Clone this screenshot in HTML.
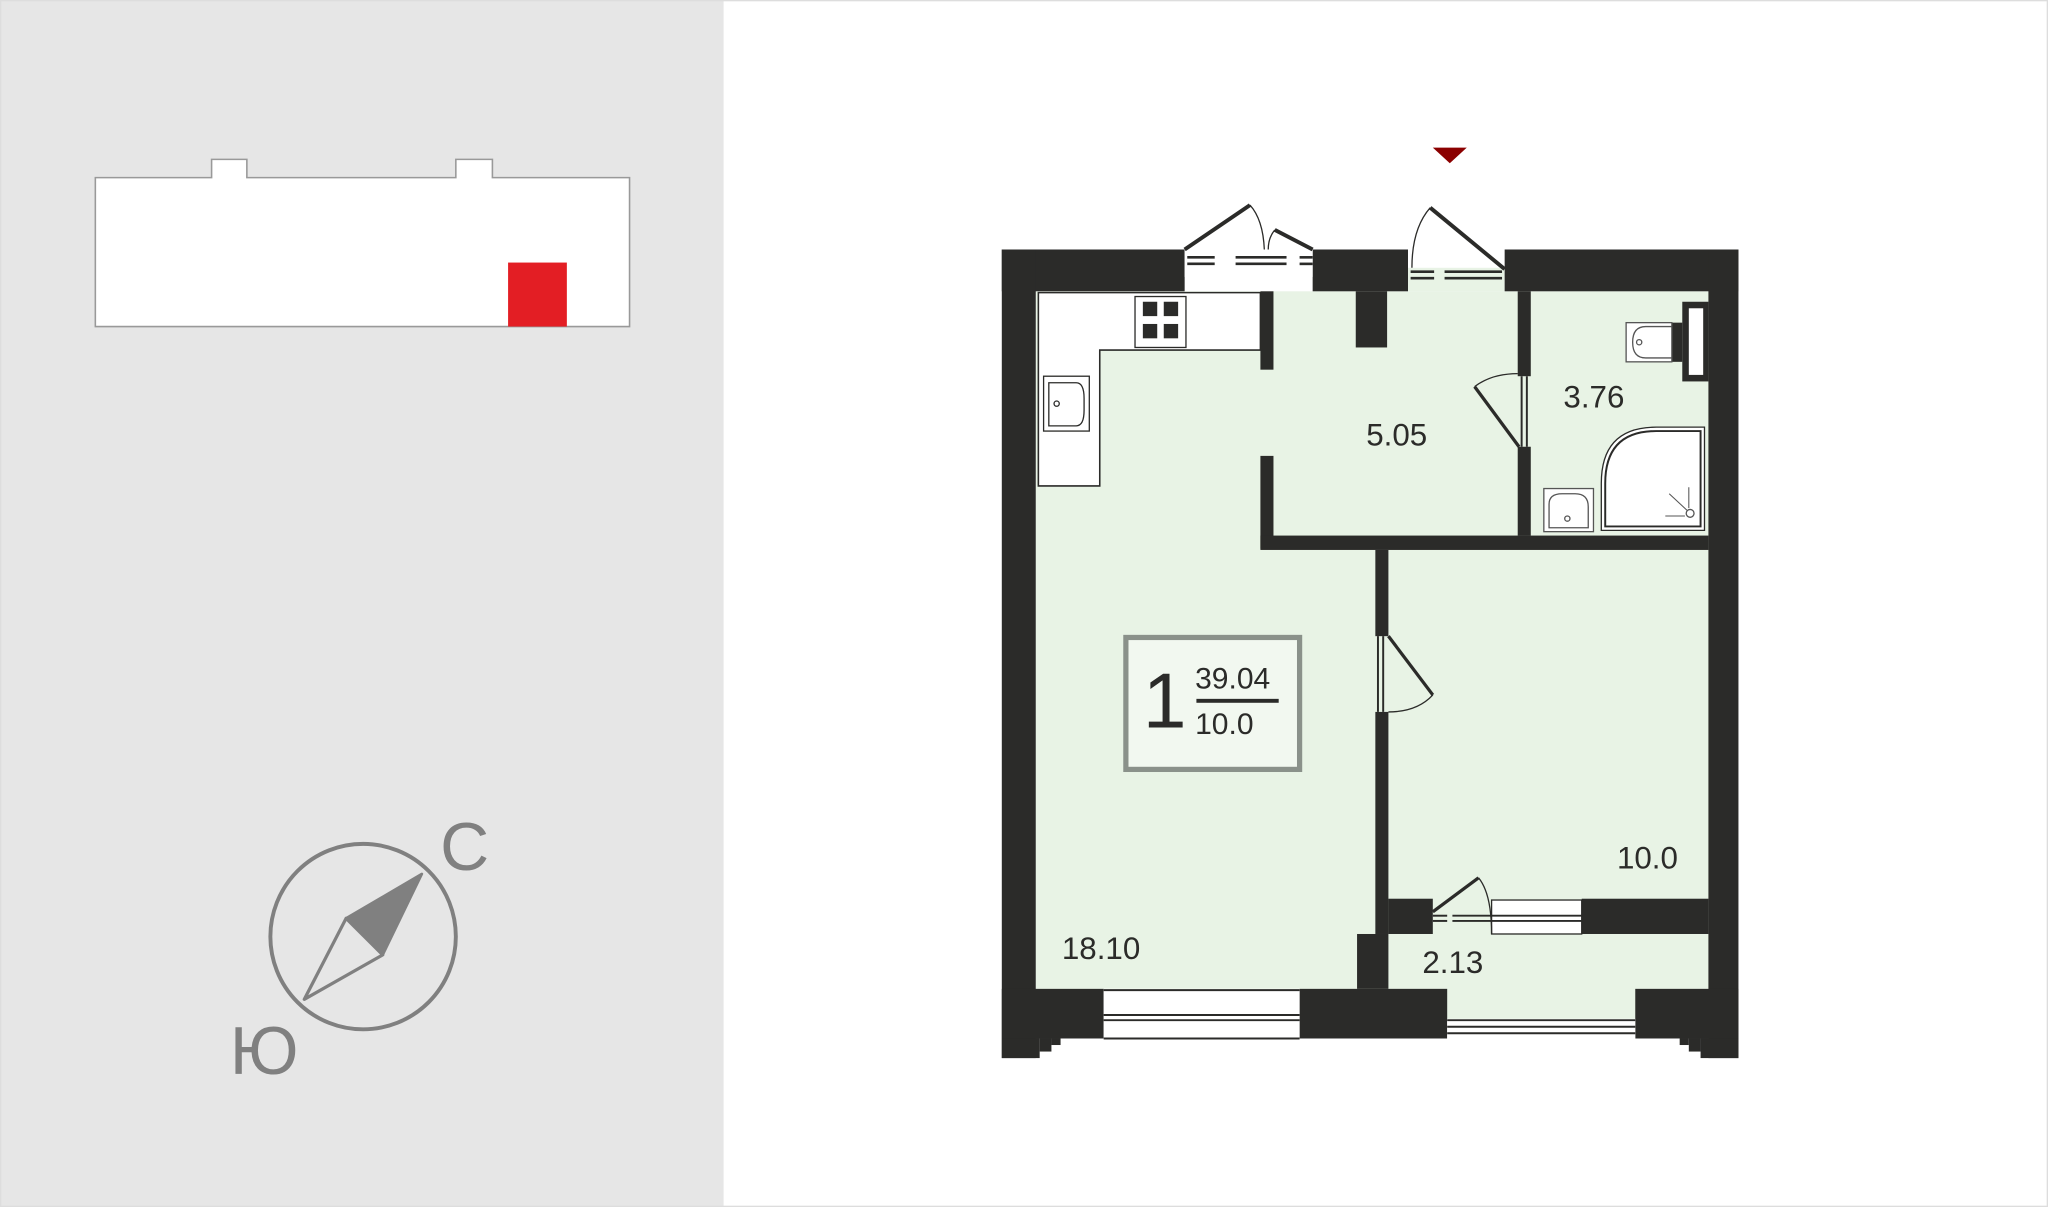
<!DOCTYPE html>
<html><head><meta charset="utf-8"><style>
html,body{margin:0;padding:0;background:#fff}
svg{display:block}
text{font-family:"Liberation Sans",sans-serif}
</style></head><body>
<svg width="2048" height="1207" viewBox="0 0 1568 924" preserveAspectRatio="none" xmlns="http://www.w3.org/2000/svg">
<rect x="0" y="0" width="1568" height="924" fill="#fff"/>
<rect x="0" y="0" width="554" height="924" fill="#e6e6e6"/>
<rect x="0.5" y="0.5" width="1567" height="923" fill="none" stroke="#ddd"/>
<path d="M73,136 H162 V122 H189 V136 H349 V122 H377 V136 H482 V250 H73 Z" fill="#fff" stroke="#999" stroke-width="1.2"/>
<rect x="389" y="201" width="45" height="49" fill="#e31e24"/>
<circle cx="278" cy="717" r="71" fill="none" stroke="#808080" stroke-width="3"/>
<polygon points="323,669 265,703 293,731" fill="#808080" stroke="#808080" stroke-width="2" stroke-linejoin="round"/>
<polygon points="265,703 233,765 293,731" fill="none" stroke="#808080" stroke-width="2.5" stroke-linejoin="round"/>
<text x="337" y="666" font-size="52" fill="#808080">С</text>
<text x="176" y="822" font-size="52" fill="#808080">Ю</text>
<polygon points="1097,113 1123,113 1110,125" fill="#8b0000"/>
<rect x="793" y="223" width="515" height="534" fill="#e8f3e5"/>
<rect x="1063" y="715" width="245" height="65" fill="#e8f3e5"/>
<rect x="1078" y="205" width="74" height="18" fill="#e8f3e5"/>
<path d="M795,224 H965 V268 H842 V372 H795 Z" fill="#fff" stroke="#2b2b29" stroke-width="1.2"/>
<rect x="869" y="227" width="39" height="39" fill="#fff" stroke="#2b2b29" stroke-width="1"/>
<rect x="875" y="231" width="11" height="11" fill="#2b2b29"/><rect x="891" y="231" width="11" height="11" fill="#2b2b29"/>
<rect x="875" y="248" width="11" height="11" fill="#2b2b29"/><rect x="891" y="248" width="11" height="11" fill="#2b2b29"/>
<rect x="799" y="288" width="35" height="42" fill="#fff" stroke="#2b2b29" stroke-width="1"/>
<path d="M803,293 H824 Q830,293 830,305 V314 Q830,326 824,326 H803 Z" fill="none" stroke="#2b2b29" stroke-width="1"/>
<circle cx="809" cy="309" r="2" fill="none" stroke="#2b2b29"/>
<g fill="#2b2b29">
<rect x="767" y="191" width="140" height="32"/>
<rect x="1005" y="191" width="73" height="32"/>
<rect x="1038" y="223" width="24" height="43"/>
<rect x="1152" y="191" width="179" height="32"/>
<rect x="767" y="191" width="26" height="619"/>
<rect x="1308" y="191" width="23" height="619"/>
<rect x="767" y="757" width="78" height="38"/>
<rect x="995" y="757" width="113" height="38"/>
<rect x="1252" y="757" width="79" height="38"/>
<rect x="767" y="795" width="29" height="15"/><rect x="796" y="795" width="9" height="10"/><rect x="805" y="795" width="7" height="5"/>
<rect x="1302" y="795" width="29" height="15"/><rect x="1293" y="795" width="9" height="10"/><rect x="1286" y="795" width="7" height="5"/>
<rect x="965" y="223" width="10" height="60"/>
<rect x="965" y="349" width="10" height="71"/>
<rect x="965" y="410" width="343" height="11"/>
<rect x="1162" y="223" width="10" height="65"/>
<rect x="1162" y="342" width="10" height="68"/>
<rect x="1053" y="421" width="10" height="66"/>
<rect x="1053" y="545" width="10" height="170"/>
<rect x="1039" y="715" width="24" height="42"/>
<rect x="1063" y="688" width="34" height="27"/>
<rect x="1211" y="688" width="97" height="27"/>
</g>
<rect x="907" y="191" width="98" height="21" fill="#fff"/>
<g stroke="#2b2b29" stroke-width="2">
<line x1="909" y1="197" x2="930" y2="197"/><line x1="946" y1="197" x2="985" y2="197"/><line x1="995" y1="197" x2="1005" y2="197"/>
<line x1="909" y1="202" x2="930" y2="202"/><line x1="946" y1="202" x2="985" y2="202"/><line x1="995" y1="202" x2="1005" y2="202"/>
<line x1="1080" y1="208" x2="1098" y2="208"/><line x1="1106" y1="208" x2="1150" y2="208"/>
<line x1="1080" y1="213" x2="1098" y2="213"/><line x1="1106" y1="213" x2="1150" y2="213"/>
</g>
<path d="M907,191 L957,157 M976,176 L1005,191" fill="none" stroke="#2b2b29" stroke-width="3"/>
<path d="M957,157 Q967,168 968,191 M976,176 Q971,182 971,191" fill="none" stroke="#2b2b29" stroke-width="1"/>
<path d="M1152,206 L1095,159" fill="none" stroke="#2b2b29" stroke-width="3"/>
<path d="M1095,159 Q1081,175 1081,205" fill="none" stroke="#2b2b29" stroke-width="1"/>
<rect x="845" y="757" width="150" height="38" fill="#fff"/>
<g stroke="#2b2b29" stroke-width="1.5"><line x1="845" y1="758" x2="995" y2="758"/><line x1="845" y1="777" x2="995" y2="777"/><line x1="845" y1="781" x2="995" y2="781"/><line x1="845" y1="795" x2="995" y2="795"/></g>
<rect x="1108" y="780" width="144" height="15" fill="#fff"/>
<g stroke="#2b2b29" stroke-width="1.5"><line x1="1108" y1="781" x2="1252" y2="781"/><line x1="1108" y1="786" x2="1252" y2="786"/><line x1="1108" y1="791" x2="1252" y2="791"/></g>
<rect x="1142" y="689" width="69" height="26" fill="#fff" stroke="#2b2b29" stroke-width="1"/>
<g stroke="#2b2b29" stroke-width="1.5"><line x1="1097" y1="701" x2="1108" y2="701"/><line x1="1112" y1="701" x2="1211" y2="701"/><line x1="1097" y1="705" x2="1108" y2="705"/><line x1="1112" y1="705" x2="1211" y2="705"/></g>
<path d="M1097,698 L1132,672" stroke="#2b2b29" stroke-width="2.5" fill="none"/>
<path d="M1132,672 Q1142,684 1142,715" stroke="#2b2b29" stroke-width="1" fill="none"/>
<g stroke="#2b2b29" stroke-width="1.5"><line x1="1165" y1="288" x2="1165" y2="342"/><line x1="1169" y1="288" x2="1169" y2="342"/></g>
<path d="M1163,342 L1129,296" stroke="#2b2b29" stroke-width="2.5" fill="none"/>
<path d="M1129,296 Q1142,286 1162,286" stroke="#2b2b29" stroke-width="1" fill="none"/>
<g stroke="#2b2b29" stroke-width="1.5"><line x1="1055" y1="487" x2="1055" y2="545"/><line x1="1059" y1="487" x2="1059" y2="545"/></g>
<path d="M1063,487 L1097,532" stroke="#2b2b29" stroke-width="2.5" fill="none"/>
<path d="M1097,532 Q1085,545 1063,545" stroke="#2b2b29" stroke-width="1" fill="none"/>
<rect x="1288" y="231" width="20" height="61" fill="#2b2b29"/>
<rect x="1293" y="236" width="11" height="51" fill="#fff"/>
<rect x="1280" y="247" width="8" height="30" fill="#2b2b29"/>
<rect x="1245" y="247" width="35" height="30" fill="#fff" stroke="#555" stroke-width="1"/>
<path d="M1280,250 H1260 Q1250,250 1250,262 Q1250,274 1260,274 H1280" fill="none" stroke="#555" stroke-width="1"/>
<circle cx="1255" cy="262" r="2" fill="none" stroke="#555"/>
<path d="M1226,406 V370 Q1226,327 1268,327 H1305 V406 Z" fill="#fff" stroke="#2b2b29" stroke-width="1"/>
<path d="M1229,403 V370 Q1229,330 1268,330 H1302 V403 Z" fill="none" stroke="#2b2b29" stroke-width="1.5"/>
<circle cx="1294" cy="393" r="3" fill="none" stroke="#555"/>
<path d="M1278,378 L1292,391 M1275,395 L1290,395 M1293,373 L1293,389" stroke="#555" stroke-width="0.8"/>
<rect x="1182" y="374" width="38" height="33" fill="#fff" stroke="#555" stroke-width="1"/>
<path d="M1186,404 V386 Q1186,378 1196,378 H1206 Q1216,378 1216,388 V404 Z" fill="none" stroke="#555" stroke-width="1"/>
<circle cx="1200" cy="397" r="2" fill="none" stroke="#555"/>
<rect x="862" y="488" width="133" height="101" fill="#f2f8f0" stroke="#8a918a" stroke-width="4"/>
<text x="875" y="557" font-size="60" fill="#2b2b29">1</text>
<text x="915" y="527" font-size="23" fill="#2b2b29">39.04</text>
<rect x="916" y="535" width="63" height="3" fill="#2b2b29"/>
<text x="915" y="562" font-size="23" fill="#2b2b29">10.0</text>
<g font-size="24" fill="#2b2b29">
<text x="1046" y="341">5.05</text>
<text x="1197" y="312">3.76</text>
<text x="813" y="734">18.10</text>
<text x="1238" y="665">10.0</text>
<text x="1089" y="745">2.13</text>
</g>
</svg>
</body></html>
